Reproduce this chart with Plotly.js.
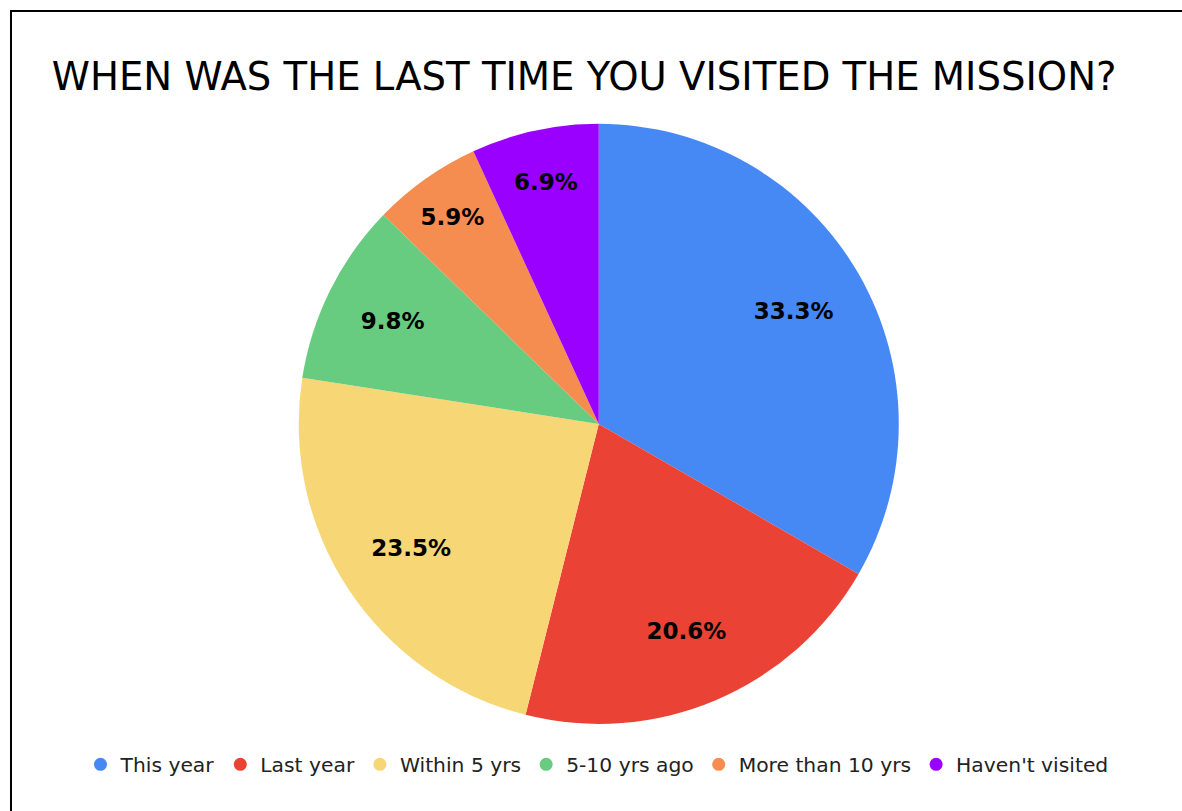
<!DOCTYPE html>
<html>
<head>
<meta charset="utf-8">
<script src="https://cdn.plot.ly/plotly-3.0.1.min.js"></script>
<style>
  html, body { margin: 0; padding: 0; background: #fff; width: 1182px; height: 811px; overflow: hidden; }
  #frame { position: absolute; left: 10px; top: 10px; width: 1172px; height: 801px;
           border-top: 2px solid #000; border-left: 2px solid #000; box-sizing: border-box; }
  #chart { position: absolute; left: 0; top: 0; width: 1170px; height: 799px; }
</style>
</head>
<body>
<div id="frame"><div id="chart"></div></div>
<script>
const categories = ["This year", "Last year", "Within 5 yrs", "5-10 yrs ago", "More than 10 yrs", "Haven't visited"];
const responses = [34, 21, 24, 10, 6, 7];
const colors = ["#4688F4", "#EA4335", "#F7D675", "#67CC80", "#F68D50", "#9A00FF"];
const titleText = "WHEN WAS THE LAST TIME YOU VISITED THE MISSION?";

const pieDomain = { x: [0.2450, 0.7580], y: [0.1090, 0.8600] };

// Filled slices
const pie = {
  type: "pie",
  labels: categories,
  values: responses,
  sort: false,
  direction: "clockwise",
  rotation: 0,
  marker: { colors: colors, line: { width: 0 } },
  textinfo: "none",
  hoverinfo: "label+percent",
  showlegend: false,
  domain: pieDomain
};

// Transparent ring over the same data, carrying the percentage labels
const labelRing = {
  type: "pie",
  labels: categories,
  values: responses,
  sort: false,
  direction: "clockwise",
  rotation: 0,
  hole: 0.5,
  marker: { colors: categories.map(() => "rgba(0,0,0,0)"), line: { width: 0 } },
  texttemplate: "%{percent:.1%}",
  textposition: "inside",
  insidetextorientation: "horizontal",
  textfont: { family: "DejaVu Sans", size: 23, color: "#000", weight: "bold" },
  hoverinfo: "skip",
  showlegend: false,
  domain: pieDomain
};

const legendTraces = categories.map((c, i) => ({
  type: "scatter",
  mode: "markers",
  x: [null], y: [null],
  name: c,
  marker: { symbol: "circle", size: 13, color: colors[i] },
  showlegend: true,
  hoverinfo: "skip"
}));

const layout = {
  width: 1170, height: 799,
  margin: { l: 0, r: 0, t: 0, b: 0 },
  paper_bgcolor: "#fff",
  plot_bgcolor: "#fff",
  font: { family: "DejaVu Sans", color: "#222" },
  title: {
    text: titleText,
    font: { family: "DejaVu Sans", size: 38.6, color: "#000" },
    x: 0.034, xanchor: "left", xref: "paper",
    y: 0.919, yanchor: "middle", yref: "paper"
  },
  xaxis: { visible: false },
  yaxis: { visible: false },
  showlegend: true,
  legend: {
    orientation: "h",
    x: 0.5, xanchor: "center",
    y: 0.058, yanchor: "middle",
    font: { family: "DejaVu Sans", size: 20.3, color: "#222" },
    itemwidth: 30,
    bgcolor: "rgba(0,0,0,0)"
  }
};

Plotly.newPlot("chart", [pie, labelRing, ...legendTraces], layout, { displayModeBar: false, staticPlot: true });
</script>
</body>
</html>
